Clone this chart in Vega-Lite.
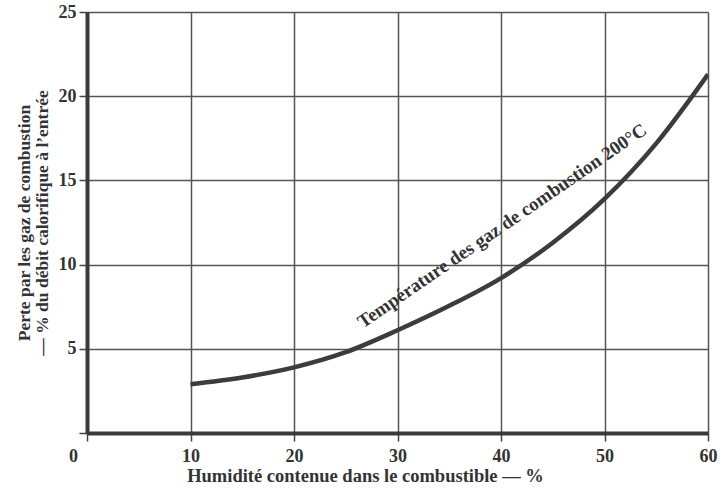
{
  "$schema": "https://vega.github.io/schema/vega-lite/v6.json",
  "width": 621,
  "height": 421,
  "autosize": {"type": "none"},
  "padding": {"left": 87, "top": 12, "right": 14, "bottom": 57},
  "background": "white",
  "config": {
    "view": {"stroke": null},
    "font": "Liberation Serif",
    "axis": {
      "labelFont": "Liberation Serif",
      "labelFontWeight": "bold",
      "labelFontSize": 18,
      "labelColor": "#333",
      "titleFont": "Liberation Serif",
      "titleFontWeight": "bold",
      "titleFontSize": 18.5,
      "titleColor": "#333",
      "gridColor": "#555",
      "gridWidth": 1.5,
      "gridOpacity": 1,
      "domainColor": "#3a3a3a",
      "domainWidth": 4,
      "tickColor": "#444",
      "tickWidth": 1.5
    }
  },
  "datasets": {
    "curve": [
      {"humidite": 10, "perte": 2.9},
      {"humidite": 15, "perte": 3.3},
      {"humidite": 20, "perte": 3.9},
      {"humidite": 25, "perte": 4.8},
      {"humidite": 30, "perte": 6.1},
      {"humidite": 35, "perte": 7.55},
      {"humidite": 40, "perte": 9.2},
      {"humidite": 45, "perte": 11.3},
      {"humidite": 50, "perte": 13.9},
      {"humidite": 55, "perte": 17.2},
      {"humidite": 60, "perte": 21.3}
    ],
    "label": [
      {"humidite": 40.1, "perte": 12.3, "texte": "Température des gaz de combustion 200°C"}
    ]
  },
  "layer": [
    {
      "data": {"name": "curve"},
      "mark": {"type": "line", "interpolate": "monotone", "color": "#3c3c3c", "strokeWidth": 4.5, "clip": true},
      "encoding": {
        "x": {
          "field": "humidite",
          "type": "quantitative",
          "scale": {"domain": [0, 60], "nice": false, "zero": true},
          "axis": {
            "values": [0, 10, 20, 30, 40, 50, 60],
            "title": "Humidité contenue dans le combustible — %",
            "titleX": 278,
            "titleAnchor": "middle",
            "titlePadding": 1,
            "tickSize": 8,
            "labelPadding": 6,
            "labelOffset": {"condition": {"test": "datum.value == 0", "value": -14}, "value": 0},
            "labelFlush": false,
            "labelOverlap": false
          }
        },
        "y": {
          "field": "perte",
          "type": "quantitative",
          "scale": {"domain": [0, 25], "nice": false},
          "axis": {
            "values": [0, 5, 10, 15, 20, 25],
            "labelExpr": "datum.value == 0 ? '' : datum.label",
            "title": ["Perte par les gaz de combustion", "— % du débit calorifique à l’entrée"],
            "titleFontSize": 17.5,
            "titleLineHeight": 18,
            "titlePadding": 7,
            "tickSize": 8,
            "labelPadding": 3,
            "labelFlush": false,
            "labelOverlap": false
          }
        }
      }
    },
    {
      "data": {"name": "label"},
      "mark": {"type": "text", "angle": -34.5, "font": "Liberation Serif", "fontWeight": "bold", "fontSize": 19, "color": "#333", "align": "center", "baseline": "middle"},
      "encoding": {
        "x": {"field": "humidite", "type": "quantitative"},
        "y": {"field": "perte", "type": "quantitative"},
        "text": {"field": "texte"}
      }
    }
  ]
}
